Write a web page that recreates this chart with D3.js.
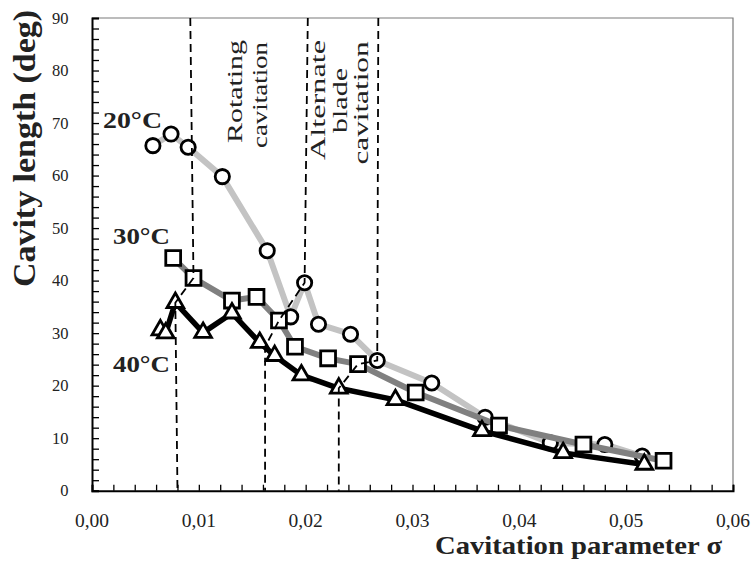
<!DOCTYPE html>
<html>
<head>
<meta charset="utf-8">
<script src="https://cdn.jsdelivr.net/npm/d3@7"></script>
<style>
  html, body { margin: 0; padding: 0; background: #fff; }
  svg { display: block; }
  text { font-family: "Liberation Serif", "Times New Roman", serif; fill: #222; }
</style>
</head>
<body>
<svg id="chart" width="752" height="568"></svg>
<script>
// ---- data (sigma, cavity length in deg) ----
const sigma20 = [0.0057, 0.0074, 0.0090, 0.0122, 0.0164, 0.0186, 0.0199, 0.0212, 0.0242, 0.0267, 0.0318, 0.0368, 0.0429, 0.0480, 0.0515];
const len20   = [65.7,   67.9,   65.4,   59.8,   45.7,   33.1,   39.6,   31.7,   29.8,   24.8,   20.5,   14.0,   9.1,    8.8,    6.6];

const sigma30 = [0.0076, 0.0095, 0.0131, 0.0154, 0.0175, 0.0190, 0.0221, 0.0249, 0.0303, 0.0381, 0.0460, 0.0535];
const len30   = [44.3,   40.5,   36.2,   36.9,   32.4,   27.4,   25.2,   24.1,   18.7,   12.4,   8.8,    5.7];

const sigma40 = [0.0064, 0.0069, 0.0078, 0.0104, 0.0131, 0.0157, 0.0171, 0.0196, 0.0231, 0.0284, 0.0365, 0.0441, 0.0517];
const len40   = [30.6,   30.0,   35.8,   30.1,   33.8,   28.2,   25.7,   22.0,   19.5,   17.3,   11.4,   7.2,    5.0];

// regime boundary lines (dashed)
const bound1Sigma = [0.0092, 0.0095, 0.0078, 0.0080];
const bound1Len   = [90,     40.5,   35.8,   0];
const bound2Sigma = [0.0202, 0.0199, 0.0175, 0.0162, 0.0162];
const bound2Len   = [90,     39.6,   32.4,   27.4,   0];
const bound3Sigma = [0.0268, 0.0267, 0.0249, 0.0231, 0.0231];
const bound3Len   = [90,     24.8,   24.1,   19.5,   0];

const xTicks = [0, 0.01, 0.02, 0.03, 0.04, 0.05, 0.06];
const yTicks = [0, 10, 20, 30, 40, 50, 60, 70, 80, 90];
const seriesNames = ["20°C", "30°C", "40°C"];

// ---- layout ----
const svg = d3.select("#chart");
const L = 92, T = 18, R = 733, B = 490.7;
const x = d3.scaleLinear().domain([0, 0.06]).range([L, R]);
const y = d3.scaleLinear().domain([0, 90]).range([B, T]);

const zip = (a, b) => a.map((v, i) => [v, b[i]]);
const line = d3.line().x(d => x(d[0])).y(d => y(d[1]));

// frame top/right (gray)
svg.append("path")
  .attr("d", `M${L},${T}H${R}V${B}`)
  .attr("fill", "none").attr("stroke", "#7a7a7a").attr("stroke-width", 1.2);

// minor ticks
const xMinor = d3.range(0, 0.0601, 0.002);
const yMinor = d3.range(0, 90.1, 2);

const xAxis = d3.axisBottom(x).tickValues(xMinor).tickSize(-6).tickFormat("");
const gx = svg.append("g").attr("transform", `translate(0,${B})`).call(xAxis);
gx.select(".domain").attr("stroke", "#000").attr("stroke-width", 2);
gx.selectAll(".tick line").attr("stroke", "#000").attr("stroke-width", 1.3);

const yAxis = d3.axisLeft(y).tickValues(yMinor).tickSize(-7).tickFormat("");
const gy = svg.append("g").attr("transform", `translate(${L},0)`).call(yAxis);
gy.select(".domain").attr("stroke", "#000").attr("stroke-width", 2);
gy.selectAll(".tick line").attr("stroke", "#000").attr("stroke-width", 1.3);

// tick labels
svg.append("g").selectAll("text").data(xTicks).join("text")
  .attr("x", d => x(d)).attr("y", 527)
  .attr("text-anchor", "middle").attr("font-size", 19.5)
  .text(d => d3.format(".2f")(d).replace(".", ","));

svg.append("g").selectAll("text").data(yTicks).join("text")
  .attr("x", 68.5).attr("y", d => y(d) + 5.5)
  .attr("text-anchor", "end").attr("font-size", 16.5)
  .text(d => d);

// axis titles
svg.append("text")
  .attr("transform", "translate(35,148.5) rotate(-90)")
  .attr("text-anchor", "middle").attr("font-size", 31).attr("font-weight", "bold")
  .attr("textLength", 277).attr("lengthAdjust", "spacingAndGlyphs")
  .text("Cavity length (deg)");

svg.append("text")
  .attr("x", 435).attr("y", 554)
  .attr("font-size", 25).attr("font-weight", "bold")
  .attr("textLength", 287).attr("lengthAdjust", "spacingAndGlyphs")
  .text("Cavitation parameter σ");

// series
const series = [
  { name: seriesNames[0], pts: zip(sigma20, len20), color: "#c3c3c3", width: 6, sym: d3.symbolCircle, size: 160 },
  { name: seriesNames[1], pts: zip(sigma30, len30), color: "#808080", width: 6, sym: d3.symbolSquare, size: 220 },
  { name: seriesNames[2], pts: zip(sigma40, len40), color: "#000000", width: 5.5, sym: d3.symbolTriangle, size: 120 }
];

series.forEach(s => {
  const g = svg.append("g");
  g.append("path").datum(s.pts).attr("d", line)
    .attr("fill", "none").attr("stroke", s.color).attr("stroke-width", s.width)
    .attr("stroke-linejoin", "round").attr("stroke-linecap", "round");
  g.selectAll("path.m").data(s.pts).join("path").attr("class", "m")
    .attr("d", d3.symbol().type(s.sym).size(s.size))
    .attr("transform", d => `translate(${x(d[0])},${y(d[1])})`)
    .attr("fill", "#fff").attr("stroke", "#000").attr("stroke-width", 2.8);
});

// dashed boundaries
[zip(bound1Sigma, bound1Len), zip(bound2Sigma, bound2Len), zip(bound3Sigma, bound3Len)].forEach(b => {
  svg.append("path").datum(b).attr("d", line)
    .attr("fill", "none").attr("stroke", "#000").attr("stroke-width", 1.8)
    .attr("stroke-dasharray", "8,5");
});

// series labels
const lab = [
  { t: seriesNames[0], x: 103, y: 128, w: 59 },
  { t: seriesNames[1], x: 113, y: 243.5, w: 57 },
  { t: seriesNames[2], x: 113, y: 372, w: 57 }
];
svg.append("g").selectAll("text").data(lab).join("text")
  .attr("x", d => d.x).attr("y", d => d.y)
  .attr("font-size", 24).attr("font-weight", "bold")
  .attr("textLength", d => d.w).attr("lengthAdjust", "spacingAndGlyphs")
  .text(d => d.t);

// regime labels (rotated)
const regimes = [
  { t: "Rotating", bx: 242, cy: 91.5, w: 103 },
  { t: "cavitation", bx: 266.5, cy: 95, w: 106 },
  { t: "Alternate", bx: 325, cy: 100, w: 120 },
  { t: "blade", bx: 346.5, cy: 100.5, w: 65 },
  { t: "cavitation", bx: 368, cy: 103, w: 123 }
];
svg.append("g").selectAll("text").data(regimes).join("text")
  .attr("transform", d => `translate(${d.bx},${d.cy}) rotate(-90)`)
  .attr("text-anchor", "middle").attr("font-size", 22)
  .attr("textLength", d => d.w).attr("lengthAdjust", "spacingAndGlyphs")
  .text(d => d.t);
</script>
</body>
</html>
